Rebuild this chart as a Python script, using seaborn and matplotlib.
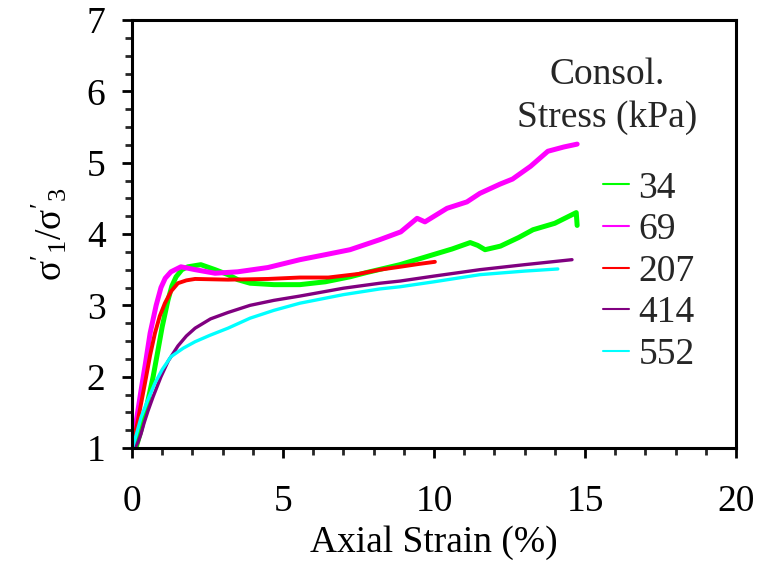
import matplotlib
matplotlib.use("Agg")
import matplotlib.pyplot as plt
import seaborn as sns
import pandas as pd
from matplotlib.lines import Line2D
from matplotlib.ticker import MultipleLocator

# ---- data ----
x_34 = [0.13, 0.3, 0.53, 0.7, 0.86, 1.0, 1.19, 1.32, 1.46, 1.65, 1.85, 2.28, 2.75, 3.18, 3.5,
        3.91, 4.7, 5.56, 6.4, 7.22, 7.77, 8.87, 9.97, 10.6, 11.2, 11.45, 11.69, 12.2, 12.8,
        13.28, 14.0, 14.71, 14.74]
y_34 = [1.0, 1.25, 1.67, 2.0, 2.37, 2.7, 3.07, 3.27, 3.4, 3.5, 3.54, 3.57, 3.5, 3.43, 3.36,
        3.31, 3.29, 3.29, 3.33, 3.40, 3.46, 3.57, 3.71, 3.79, 3.88, 3.84, 3.78, 3.83, 3.95,
        4.06, 4.15, 4.30, 4.12]

x_69 = [0.03, 0.15, 0.3, 0.45, 0.6, 0.8, 0.96, 1.1, 1.29, 1.62, 2.09, 2.75, 3.5, 4.5, 5.56,
        6.4, 7.22, 8.2, 8.9, 9.44, 9.7, 10.43, 11.09, 11.52, 12.19, 12.6, 13.2, 13.77, 14.3, 14.74]
y_69 = [1.07, 1.4, 1.81, 2.2, 2.61, 3.0, 3.25, 3.38, 3.47, 3.54, 3.5, 3.45, 3.47, 3.53, 3.64,
        3.71, 3.78, 3.92, 4.03, 4.22, 4.17, 4.36, 4.45, 4.57, 4.7, 4.77, 4.95, 5.16, 5.22, 5.26]

x_207 = [0.03, 0.2, 0.43, 0.6, 0.76, 0.92, 1.09, 1.3, 1.52, 1.8, 2.09, 3.18, 4.5, 5.56, 6.5,
         7.5, 8.21, 8.87, 9.5, 10.03]
y_207 = [1.05, 1.4, 1.91, 2.3, 2.61, 2.85, 3.03, 3.2, 3.31, 3.35, 3.37, 3.36, 3.37, 3.39, 3.39,
         3.44, 3.5, 3.54, 3.58, 3.61]

x_414 = [0.1, 0.2, 0.3, 0.4, 0.53, 0.7, 0.96, 1.2, 1.52, 1.8, 2.09, 2.6, 3.18, 3.91, 4.7,
         5.56, 7.0, 8.21, 8.87, 10.0, 11.52, 13.0, 14.57]
y_414 = [1.0, 1.08, 1.2, 1.35, 1.52, 1.72, 2.0, 2.22, 2.43, 2.57, 2.68, 2.81, 2.9, 3.0, 3.07,
         3.13, 3.24, 3.31, 3.34, 3.41, 3.5, 3.57, 3.64]

x_552 = [0.03, 0.15, 0.3, 0.5, 0.76, 1.0, 1.29, 1.7, 2.09, 2.58, 3.18, 3.91, 4.7, 5.56, 7.0,
         8.21, 8.87, 10.0, 11.52, 13.0, 14.1]
y_552 = [1.02, 1.2, 1.43, 1.65, 1.91, 2.1, 2.28, 2.4, 2.49, 2.58, 2.68, 2.82, 2.93, 3.03, 3.15,
         3.23, 3.26, 3.33, 3.43, 3.48, 3.51]

labels = ["34", "69", "207", "414", "552"]
colors = ["#00ff00", "#ff00ff", "#ff0000", "#800080", "#00ffff"]
widths = [3.6, 3.6, 2.8, 2.4, 2.4]
series_x = [x_34, x_69, x_207, x_414, x_552]
series_y = [y_34, y_69, y_207, y_414, y_552]

frames = []
for lab, xs, ys in zip(labels, series_x, series_y):
    frames.append(pd.DataFrame({"strain": xs, "ratio": ys, "stress": lab}))
df = pd.concat(frames, ignore_index=True)

# ---- style ----
sns.set_theme(style="white")
plt.rcParams["font.family"] = ["Liberation Serif", "DejaVu Serif"]
plt.rcParams["mathtext.fontset"] = "custom"
plt.rcParams["mathtext.rm"] = "Liberation Serif"
plt.rcParams["mathtext.it"] = "Liberation Serif:italic"

FS = 27

fig = plt.figure(figsize=(7.59, 5.61), dpi=100)
ax = fig.add_axes([132 / 759, 1 - 448 / 561, (736 - 132) / 759, (448 - 20) / 561])

for lab, col, lw in zip(labels, colors, widths):
    sns.lineplot(data=df[df["stress"] == lab], x="strain", y="ratio", color=col,
                 linewidth=lw, sort=False, estimator=None, ax=ax, legend=False)

ax.set_xlim(0, 20)
ax.set_ylim(1, 7)
ax.xaxis.set_major_locator(MultipleLocator(5))
ax.xaxis.set_minor_locator(MultipleLocator(1))
ax.yaxis.set_major_locator(MultipleLocator(1))
ax.yaxis.set_minor_locator(MultipleLocator(0.25))

for s in ax.spines.values():
    s.set_linewidth(2.2)
    s.set_color("black")

ax.tick_params(axis="x", which="major", direction="out", length=7, width=2, pad=19,
               labelsize=FS, colors="black", bottom=True, top=False)
ax.tick_params(axis="x", which="minor", direction="out", length=5, width=2, bottom=True, top=False)
ax.tick_params(axis="y", which="major", direction="out", length=7, width=2, pad=12,
               labelsize=FS, colors="black", left=True, right=False)
ax.tick_params(axis="y", which="minor", direction="out", length=5, width=2, left=True, right=False)

ax.set_xlabel("Axial Strain (%)", fontsize=FS, color="black", labelpad=5)
ax.set_ylabel(r"$\mathrm{\sigma}'_1/\mathrm{\sigma}'_3$", fontsize=FS, color="black", labelpad=12)

# legend
fig.text(607 / 759, 1 - 75 / 561, "Consol.", ha="center", va="center", fontsize=FS)
fig.text(607 / 759, 1 - 118 / 561, "Stress (kPa)", ha="center", va="center", fontsize=FS)
handles = [Line2D([0], [0], color=c, lw=1.5) for c in colors]
leg = fig.legend(handles, labels, loc="upper left", bbox_to_anchor=(603 / 759, 1 - 171 / 561),
                 bbox_transform=fig.transFigure, frameon=False, fontsize=FS, borderpad=0,
                 borderaxespad=0, handlelength=0.7, handletextpad=0.25, labelspacing=0.19)

fig.savefig("out.png", dpi=100)
